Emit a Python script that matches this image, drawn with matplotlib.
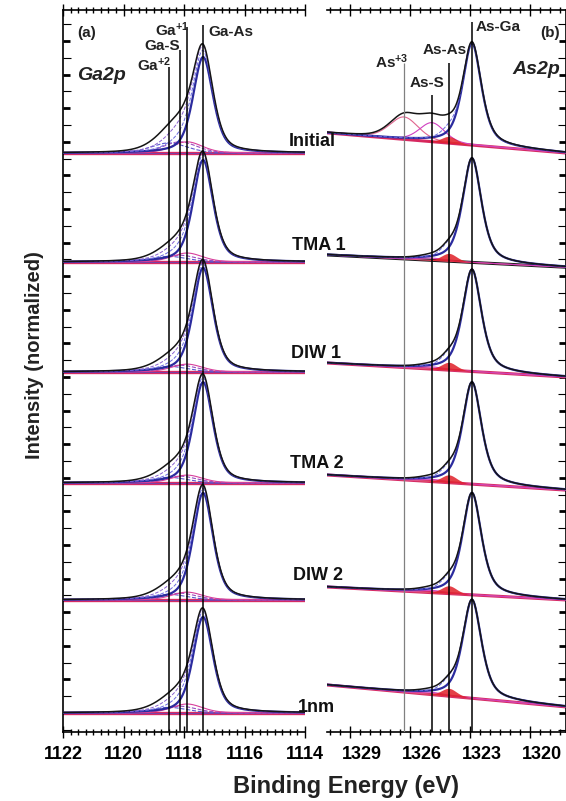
import numpy as np
import matplotlib.pyplot as plt
from matplotlib.ticker import MultipleLocator, FixedLocator
from matplotlib.transforms import ScaledTranslation

plt.rcParams['font.family'] = ['Liberation Sans', 'DejaVu Sans']
plt.rcParams['font.weight'] = 'bold'
plt.rcParams['mathtext.fontset'] = 'custom'
plt.rcParams['mathtext.rm'] = 'Liberation Sans:bold'
plt.rcParams['mathtext.bf'] = 'Liberation Sans:bold'
plt.rcParams['mathtext.it'] = 'Liberation Sans:bold:italic'
plt.rcParams['mathtext.default'] = 'bf'

## Sample stack (top to bottom)
samples = ["Initial", "TMA 1", "DIW 1", "TMA 2", "DIW 2", "1nm"]
offsets = [5.0, 4.027, 3.045, 2.054, 1.009, 0.0]

## Ga 2p fit: main Ga-As peak and oxide / sulfide components
ga_main_c = 1117.37
ga_main_w = 0.78
ga_main_h = [0.857, 0.91, 0.93, 0.90, 0.955, 0.857]
ga_comp_names = ["Ga$^{+2}$", "Ga-S", "Ga$^{+1}$"]
ga_comp_c = [1118.50, 1118.13, 1117.90]
ga_comp_w = [1.4, 1.3, 1.2]
ga_comp_h = [[0.09, 0.10, 0.10],
             [0.05, 0.06, 0.08],
             [0.05, 0.06, 0.07],
             [0.05, 0.06, 0.07],
             [0.05, 0.06, 0.07],
             [0.05, 0.06, 0.08]]
ga_line_top = [5.77, 5.92, 6.125, 6.14]   # Ga+2, Ga-S, Ga+1, Ga-As

## As 2p fit
as_main_c = 1322.9
as_main_w = 1.12
as_main_h = [0.91, 0.93, 0.91, 0.91, 0.91, 0.88]
as_comp_c = [1326.3, 1324.9, 1324.05]      # As+3, As-S, As-As
as_comp_w = [1.7, 1.5, 0.9]
as_comp_h = [[0.20, 0.17, 0.06],
             [0.0, 0.02, 0.07],
             [0.0, 0.02, 0.07],
             [0.0, 0.02, 0.07],
             [0.0, 0.02, 0.07],
             [0.0, 0.02, 0.07]]
as_bg_left = [5.18, 4.09, 3.125, 2.125, 1.125, 0.25]
as_bg_right = [5.0, 3.98, 3.0, 1.99, 1.009, 0.054]
as_line_top = [5.80, 5.52, 5.80, 6.17]     # As+3, As-S, As-As, As-Ga

ga_ticks = [1122, 1120, 1118, 1116, 1114]
as_ticks = [1329, 1326, 1323, 1320]


def pv(x, c, h, w, eta=0.5):
    d = (x - c) / w
    return h * (eta / (1 + 4 * d ** 2) + (1 - eta) * np.exp(-4 * np.log(2) * d ** 2))


W, H = 566, 801
fig = plt.figure(figsize=(W / 100, H / 100), dpi=100)
ax1 = fig.add_axes([63 / W, 69 / H, 242 / W, 722 / H])
ax2 = fig.add_axes([327 / W, 69 / H, 239 / W, 722 / H])

base_col = '#d62a64'
navy = '#2b2b9e'
ga_cols = ['#5a5ad0', '#9a4cc0', '#d8409c']

## Ga 2p panel
x = np.linspace(1122, 1114, 700)
for i in range(len(samples)):
    b = offsets[i]
    main = pv(x, ga_main_c, ga_main_h[i], ga_main_w)
    comps = [pv(x, ga_comp_c[k], ga_comp_h[i][k], ga_comp_w[k], 0.3) for k in range(3)]
    ax1.plot(x, np.full_like(x, b), color=base_col, lw=2.4, zorder=2)
    ax1.plot(x, np.full_like(x, b), color='#7a3fa8', lw=0.7, zorder=2)
    for k in range(3):
        ax1.plot(x, b + comps[k], color=ga_cols[k], lw=0.8, ls='--' if k < 2 else '-', zorder=3)
    ax1.plot(x, b + main, color=navy, lw=1.6, zorder=4)
    ax1.plot(x, b + main + comps[2], color='#6a6ae0', lw=0.7, ls='--', zorder=4)
    ax1.plot(x, b + main + comps[2] + comps[1], color='#8a60d0', lw=0.7, ls='--', zorder=4)
    ax1.plot(x, b + main + sum(comps), color='#151515', lw=1.1, zorder=5)

ga_line_x = ga_comp_c + [ga_main_c]
ax1.vlines(ga_line_x, -0.17, ga_line_top, color='k', lw=1.1, zorder=6)

## As 2p panel
xr = np.linspace(1330.15, 1318.2, 700)
as_base_cols = [base_col, '#1a1a1a', base_col, base_col, base_col, base_col]
for i in range(len(samples)):
    bl = np.linspace(as_bg_left[i], as_bg_right[i], len(xr))
    main = pv(xr, as_main_c, as_main_h[i], as_main_w, 0.6)
    comps = [pv(xr, as_comp_c[k], as_comp_h[i][k], as_comp_w[k], 0.3) for k in range(3)]
    ax2.plot(xr, bl, color=as_base_cols[i], lw=2.2, zorder=2)
    ax2.plot(xr, bl + comps[0], color='#e0648e', lw=0.8, zorder=3)
    ax2.plot(xr, bl + comps[1], color='#d040c0', lw=0.8, zorder=3)
    ax2.fill_between(xr, bl, bl + comps[2], color='#e02028', alpha=0.85, lw=0, zorder=3)
    ax2.plot(xr, bl + main, color=navy, lw=1.6, zorder=4)
    ax2.plot(xr, bl + main + comps[2], color='#6a6ae0', lw=0.7, ls='--', zorder=4)
    ax2.plot(xr, bl + main + sum(comps), color='#151515', lw=1.1, zorder=5)

ax2.vlines(as_comp_c[0], -0.17, as_line_top[0], color='#808080', lw=0.9, zorder=6)
ax2.vlines(as_comp_c[1:] + [as_main_c], -0.17, as_line_top[1:], color='k', lw=1.1, zorder=6)

## axes styling
for ax in (ax1, ax2):
    ax.set_ylim(-0.17, 6.277)
    ax.tick_params(axis='x', which='both', top=True, direction='inout', labelsize=13,
                   width=1.0, pad=6)
    ax.tick_params(axis='x', which='major', length=8)
    ax.tick_params(axis='x', which='minor', length=4)
    ax.tick_params(axis='y', which='both', direction='in', labelleft=False, labelright=False)
    ax.tick_params(axis='y', which='major', length=5, width=2)
    ax.tick_params(axis='y', which='minor', length=6, width=0.8)
    ax.yaxis.set_major_locator(MultipleLocator(0.3))
    ax.yaxis.set_minor_locator(MultipleLocator(0.15))
    for s in ax.spines.values():
        s.set_linewidth(1.2)

ax1.set_xlim(1122, 1114)
ax1.xaxis.set_major_locator(FixedLocator(ga_ticks))
ax1.xaxis.set_minor_locator(MultipleLocator(0.25))
ax1.spines['right'].set_visible(False)
ax1.tick_params(axis='y', which='both', left=True, right=False)

ax2.set_xlim(1330.15, 1318.2)
ax2.xaxis.set_major_locator(FixedLocator(as_ticks))
ax2.xaxis.set_minor_locator(MultipleLocator(0.5))
ax2.spines['left'].set_visible(False)
ax2.tick_params(axis='y', which='both', left=False, right=True)
for lab in ax2.get_xticklabels():
    lab.set_transform(lab.get_transform() + ScaledTranslation(0.12, 0, fig.dpi_scale_trans))


def ft(px, py, s, **kw):
    fig.text(px / W, 1 - py / H, s, **kw)


tc = '#222222'
## Ga labels
ft(77, 33, "(a)", fontsize=11, color=tc, va='center')
ft(77, 75, "Ga2p", fontsize=14, style='italic', color=tc, va='center')
ft(208, 32, "Ga-As", fontsize=11, color=tc, va='center')
ft(172, 30, ga_comp_names[2], fontsize=11, color=tc, va='center', ha='center')
ft(162, 46, ga_comp_names[1], fontsize=11, color=tc, va='center', ha='center')
ft(154, 65, ga_comp_names[0], fontsize=11, color=tc, va='center', ha='center')

## As labels
ft(476, 27, "As-Ga", fontsize=11, color=tc, va='center')
ft(540, 33, "(b)", fontsize=11, color=tc, va='center')
ft(512, 70, "As2p", fontsize=14, style='italic', color=tc, va='center')
ft(392, 62, "As$^{+3}$", fontsize=11, color=tc, va='center', ha='center')
ft(445, 50, "As-As", fontsize=11, color=tc, va='center', ha='center')
ft(427, 83, "As-S", fontsize=11, color=tc, va='center', ha='center')

## sample labels
label_px = [(312, 142), (319, 246), (316, 354), (317, 463), (318, 575), (316, 707)]
for name, (px, py) in zip(samples, label_px):
    ft(px, py, name, fontsize=13, color='#111111', ha='center', va='center')

ft(346, 787, "Binding Energy (eV)", fontsize=17, color=tc, ha='center', va='center')
ft(35, 355, "Intensity (normalized)", fontsize=14.5, color=tc, ha='center', va='center',
   rotation=90)

fig.savefig("out.png", dpi=100)
